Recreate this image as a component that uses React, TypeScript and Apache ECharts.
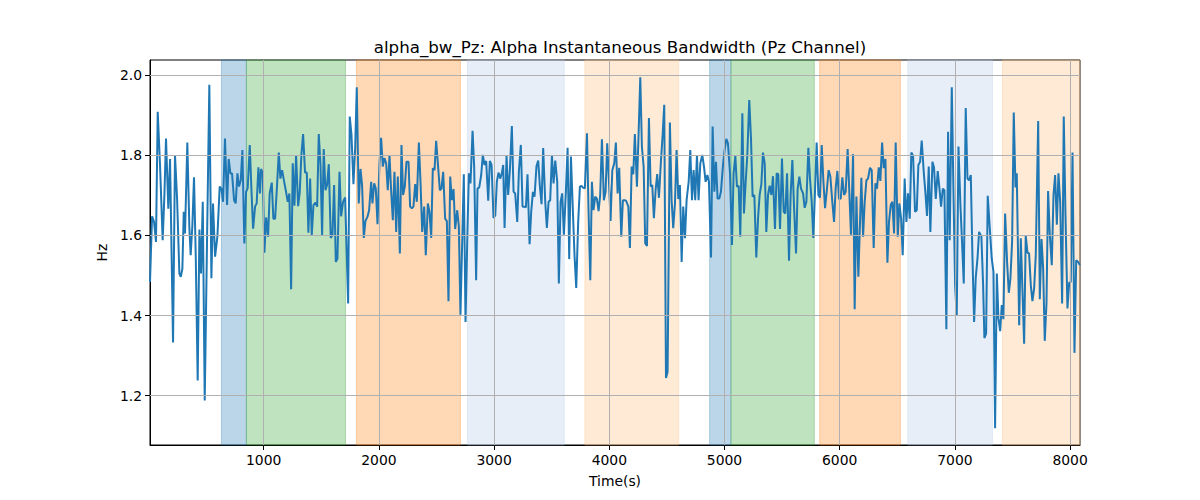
import React, { useEffect, useRef } from 'react';
import * as echarts from 'echarts';

const timeS = [
  13, 31, 48, 65, 80, 100, 123, 138, 152, 172, 187, 213, 230, 248, 268, 280, 294, 306, 317, 337,
  355, 366, 381, 395, 410, 427, 442, 456, 471, 488, 508, 528, 546, 560, 578, 598, 618, 633, 647, 664,
  682, 696, 711, 725, 743, 757, 772, 786, 801, 815, 832, 847, 861, 879, 893, 908, 925, 939, 954,
  968, 977, 992, 1006, 1021, 1038, 1052, 1070, 1084, 1099, 1116, 1131, 1145, 1160, 1177, 1194, 1209, 1223, 1238, 1252,
  1267, 1281, 1299, 1313, 1327, 1342, 1359, 1374, 1388, 1403, 1417, 1432, 1449, 1464, 1478, 1493, 1507, 1521, 1536, 1550,
  1565, 1582, 1597, 1611, 1626, 1640, 1658, 1672, 1689, 1707, 1721, 1733, 1747, 1762, 1779, 1794, 1808, 1825, 1840, 1854,
  1869, 1883, 1901, 1915, 1933, 1944, 1959, 1973, 1988,
  2005, 2019, 2034, 2048, 2063, 2077, 2092, 2106, 2121, 2135, 2150, 2164, 2182, 2196, 2210, 2225, 2239, 2257, 2271, 2286,
  2300, 2315, 2329, 2347, 2361, 2376, 2393, 2407, 2425, 2439, 2454, 2468, 2483, 2497, 2514, 2529, 2543, 2558, 2575, 2590,
  2604, 2619, 2633, 2648, 2662, 2680, 2694, 2708, 2723, 2737, 2752, 2769, 2781, 2795, 2813, 2827, 2844, 2856, 2871, 2888,
  2902, 2917, 2931, 2949, 2963, 2978, 2995, 3010, 3024, 3038,
  3053, 3067, 3079, 3091, 3108, 3122, 3137, 3154, 3169, 3183, 3201, 3215, 3232, 3247, 3261, 3276, 3290, 3308, 3322, 3337,
  3351, 3368, 3383, 3397, 3412, 3426, 3444, 3458, 3473, 3487, 3502, 3516, 3531, 3548, 3562, 3577, 3591, 3606, 3623, 3638,
  3652, 3667, 3681, 3698, 3713, 3730, 3745, 3759, 3774, 3788, 3806, 3820, 3835, 3849, 3863, 3878, 3892, 3907, 3921, 3936,
  3953, 3968, 3982, 3997, 4011, 4026, 4043, 4057, 4072, 4086,
  4104, 4118, 4133, 4147, 4165, 4179, 4194, 4208, 4222, 4240, 4254, 4269, 4283, 4298, 4312, 4327, 4344, 4359, 4373, 4387,
  4402, 4416, 4431, 4448, 4463, 4477, 4492, 4506, 4526, 4541, 4555, 4570, 4584, 4599, 4613, 4628, 4642, 4657, 4671, 4689,
  4703, 4718, 4732, 4746, 4761, 4775, 4790, 4807, 4822, 4836, 4851, 4865, 4883, 4897, 4912, 4926, 4940, 4955, 4969, 4987,
  5001, 5016, 5030, 5048, 5065, 5079, 5094, 5108, 5123,
  5137, 5155, 5169, 5184, 5198, 5215, 5230, 5244, 5259, 5276, 5291, 5305, 5320, 5334, 5349, 5363, 5378, 5392, 5407, 5421,
  5438, 5453, 5467, 5482, 5499, 5514, 5528, 5543, 5560, 5574, 5589, 5603, 5621, 5635, 5650, 5664, 5682, 5696, 5711, 5728,
  5742, 5757, 5771, 5786, 5800, 5815, 5829, 5844, 5858, 5873, 5890, 5904, 5919, 5936, 5951, 5965, 5980, 5994, 6009, 6023,
  6038, 6052, 6069, 6084, 6098, 6116, 6130, 6145, 6162,
  6188, 6203, 6217, 6232, 6246, 6263, 6278, 6295, 6310, 6324, 6339, 6353, 6368, 6382, 6397, 6414, 6428, 6443, 6457, 6472,
  6486, 6504, 6518, 6533, 6547, 6564, 6579, 6593, 6608, 6622, 6637, 6654, 6669, 6683, 6698, 6712, 6730, 6744, 6758, 6773,
  6787, 6805, 6819, 6834, 6851, 6866, 6880, 6895, 6909, 6926, 6941, 6955, 6973, 6987, 7002, 7016, 7031, 7048, 7062, 7077,
  7094, 7109, 7123, 7138, 7152, 7167, 7181, 7196, 7210,
  7230, 7245, 7256, 7271, 7285, 7303, 7320, 7335, 7349, 7364, 7378, 7393, 7407, 7421, 7436, 7453, 7468, 7482, 7497, 7511,
  7526, 7537, 7558, 7572, 7586, 7601, 7615, 7630, 7644, 7659, 7673, 7688, 7702, 7723, 7737, 7752, 7766, 7780, 7795, 7809,
  7824, 7841, 7856, 7870, 7885, 7899, 7914, 7931, 7945, 7960, 7977, 7992, 8006, 8021, 8038, 8053, 8070, 8084,
];

const alphaBw = [
  1.484, 1.648, 1.634, 1.584, 1.909, 1.776, 1.588, 1.70, 1.842, 1.667, 1.791, 1.333, 1.801, 1.693, 1.505, 1.497, 1.517, 1.659, 1.605, 1.832,
  1.617, 1.551, 1.626, 1.745, 1.551, 1.238, 1.615, 1.505, 1.684, 1.188, 1.584, 1.976, 1.493, 1.68, 1.547, 1.597, 1.722, 1.717, 1.684, 1.842,
  1.676, 1.791, 1.755, 1.755, 1.688, 1.68, 1.755, 1.722, 1.738, 1.813, 1.58, 1.709, 1.718, 1.826, 1.718, 1.617, 1.672, 1.68, 1.77,
  1.705, 1.766, 1.755, 1.557, 1.645, 1.597, 1.705, 1.732, 1.642, 1.642, 1.726, 1.807, 1.742, 1.763, 1.735, 1.709, 1.684, 1.705, 1.466, 1.78,
  1.674, 1.801, 1.673, 1.709, 1.801, 1.853, 1.757, 1.757, 1.607, 1.742, 1.601, 1.676, 1.682, 1.672, 1.853, 1.776, 1.601, 1.816, 1.713, 1.726,
  1.778, 1.594, 1.601, 1.726, 1.534, 1.542, 1.759, 1.648, 1.684, 1.695, 1.551, 1.43, 1.897, 1.851, 1.728, 1.818, 1.97, 1.68, 1.766, 1.726,
  1.594, 1.636, 1.647, 1.663, 1.734, 1.68, 1.73, 1.717, 1.628,
  1.78, 1.844, 1.772, 1.793, 1.78, 1.713, 1.801, 1.713, 1.638, 1.759, 1.609, 1.747, 1.555, 1.826, 1.701, 1.722, 1.784, 1.784, 1.672, 1.668,
  1.672, 1.728, 1.684, 1.832, 1.734, 1.609, 1.672, 1.551, 1.68, 1.659, 1.594, 1.768, 1.763, 1.836, 1.772, 1.713, 1.717, 1.759, 1.642, 1.636,
  1.436, 1.747, 1.688, 1.716, 1.616, 1.663, 1.622, 1.402, 1.584, 1.753, 1.384, 1.615, 1.755, 1.73, 1.861, 1.772, 1.488, 1.717, 1.72, 1.751,
  1.801, 1.776, 1.786, 1.687, 1.786, 1.776, 1.644, 1.65, 1.734, 1.757,
  1.742, 1.755, 1.776, 1.619, 1.799, 1.701, 1.763, 1.873, 1.709, 1.705, 1.634, 1.759, 1.826, 1.672, 1.672, 1.67, 1.753, 1.578, 1.659, 1.709,
  1.697, 1.773, 1.787, 1.724, 1.678, 1.818, 1.684, 1.619, 1.684, 1.688, 1.801, 1.73, 1.787, 1.734, 1.48, 1.684, 1.705, 1.602, 1.709, 1.819,
  1.541, 1.797, 1.684, 1.551, 1.469, 1.634, 1.722, 1.724, 1.719, 1.718, 1.855, 1.659, 1.488, 1.734, 1.663, 1.697, 1.692, 1.661, 1.701, 1.84,
  1.688, 1.709, 1.83, 1.734, 1.636, 1.763, 1.78, 1.832, 1.705, 1.769,
  1.597, 1.688, 1.688, 1.686, 1.672, 1.569, 1.772, 1.753, 1.853, 1.722, 1.851, 1.995, 1.822, 1.772, 1.58, 1.574, 1.893, 1.722, 1.726, 1.643,
  1.713, 1.753, 1.694, 1.784, 1.851, 1.926, 1.244, 1.259, 1.882, 1.688, 1.618, 1.68, 1.813, 1.691, 1.726, 1.534, 1.672, 1.593, 1.688, 1.734,
  1.813, 1.688, 1.763, 1.688, 1.801, 1.688, 1.78, 1.801, 1.772, 1.734, 1.751, 1.734, 1.545, 1.872, 1.709, 1.784, 1.692, 1.692, 1.709, 1.776,
  1.813, 1.841, 1.83, 1.755, 1.576, 1.755, 1.799, 1.722, 1.724,
  1.597, 1.905, 1.655, 1.734, 1.801, 1.938, 1.842, 1.697, 1.701, 1.545, 1.642, 1.701, 1.728, 1.807, 1.78, 1.609, 1.701, 1.724, 1.701, 1.748,
  1.616, 1.755, 1.753, 1.616, 1.792, 1.659, 1.655, 1.755, 1.537, 1.701, 1.788, 1.676, 1.555, 1.717, 1.747, 1.717, 1.705, 1.669, 1.684, 1.819,
  1.742, 1.684, 1.594, 1.713, 1.832, 1.701, 1.694, 1.826, 1.738, 1.668, 1.718, 1.763, 1.747, 1.684, 1.634, 1.718, 1.761, 1.691, 1.692, 1.745,
  1.701, 1.709, 1.816, 1.705, 1.602, 1.803, 1.416, 1.697, 1.497,
  1.744, 1.597, 1.684, 1.738, 1.742, 1.769, 1.763, 1.569, 1.73, 1.717, 1.77, 1.736, 1.832, 1.768, 1.791, 1.532, 1.634, 1.676, 1.684, 1.605,
  1.832, 1.597, 1.68, 1.642, 1.551, 1.742, 1.634, 1.705, 1.642, 1.807, 1.799, 1.659, 1.663, 1.776, 1.784, 1.837, 1.757, 1.707, 1.649, 1.772,
  1.609, 1.784, 1.769, 1.691, 1.761, 1.717, 1.672, 1.717, 1.713, 1.366, 1.859, 1.588, 1.97, 1.717, 1.476, 1.399, 1.822, 1.676, 1.584, 1.48,
  1.918, 1.742, 1.738, 1.751, 1.551, 1.384, 1.495, 1.542, 1.609,
  1.597, 1.476, 1.344, 1.355, 1.699, 1.617, 1.542, 1.509, 1.119, 1.505, 1.393, 1.361, 1.426, 1.391, 1.655, 1.534, 1.457, 1.492, 1.588, 1.907,
  1.72, 1.755, 1.376, 1.593, 1.468, 1.33, 1.599, 1.557, 1.555, 1.476, 1.436, 1.468, 1.551, 1.886, 1.441, 1.591, 1.518, 1.337, 1.43, 1.711,
  1.601, 1.526, 1.701, 1.751, 1.627, 1.755, 1.684, 1.43, 1.897, 1.651, 1.418, 1.482, 1.484, 1.807, 1.307, 1.538, 1.534, 1.526,
];

const xTicks = [1000, 2000, 3000, 4000, 5000, 6000, 7000, 8000];
const yTicks = [1.2, 1.4, 1.6, 1.8, 2.0];

const bandStart = [633, 850, 1805, 2769, 3788, 4871, 5056, 5826, 6591, 7413];
const bandEnd = [850, 1710, 2708, 3609, 4602, 5056, 5780, 6527, 7326, 8086];
const bandColor = [
  'rgba(31,119,180,0.3)',
  'rgba(44,160,44,0.3)',
  'rgba(255,127,14,0.3)',
  'rgba(174,199,232,0.3)',
  'rgba(255,187,120,0.3)',
  'rgba(31,119,180,0.3)',
  'rgba(44,160,44,0.3)',
  'rgba(255,127,14,0.3)',
  'rgba(174,199,232,0.3)',
  'rgba(255,187,120,0.3)',
];

const FONT = 'DejaVu Sans';

export default function App() {
  const ref = useRef<HTMLDivElement>(null);

  useEffect(() => {
    if (!ref.current) return;
    const chart = echarts.init(ref.current, null, { renderer: 'svg' });
    const lineData = timeS.map((t, i) => [t, alphaBw[i]]);
    const areas = bandStart.map((s, i) => [
      { xAxis: s, itemStyle: { color: bandColor[i], borderColor: bandColor[i], borderWidth: 1 } },
      { xAxis: bandEnd[i] },
    ]);
    const gridLines = [
      ...xTicks.map((v) => ({ xAxis: v })),
      ...yTicks.map((v) => ({ yAxis: v })),
    ];
    chart.setOption({
      animation: false,
      backgroundColor: '#ffffff',
      title: {
        text: 'alpha_bw_Pz: Alpha Instantaneous Bandwidth (Pz Channel)',
        left: 615,
        top: 34,
        textAlign: 'center',
        textStyle: { fontFamily: FONT, fontSize: 16.67, fontWeight: 'normal', color: '#000' },
      },
      grid: {
        left: 150,
        right: 120,
        top: 60,
        bottom: 55,
        show: true,
        borderColor: '#000',
        borderWidth: 1,
        backgroundColor: 'transparent',
        containLabel: false,
      },
      xAxis: {
        type: 'value',
        min: 13,
        max: 8086,
        name: 'Time(s)',
        nameLocation: 'middle',
        nameGap: 29,
        nameTextStyle: { fontFamily: FONT, fontSize: 13.9, color: '#000' },
        axisLine: { show: true, lineStyle: { color: '#000', width: 1 } },
        axisTick: { show: true, customValues: xTicks, length: 5, lineStyle: { color: '#000', width: 1 } },
        axisLabel: {
          customValues: xTicks,
          margin: 8,
          fontFamily: FONT,
          fontSize: 13.9,
          color: '#000',
          formatter: (v: number) => String(v),
        },
        splitLine: { show: false },
      },
      yAxis: {
        type: 'value',
        min: 1.077,
        max: 2.038,
        name: 'Hz',
        nameLocation: 'middle',
        nameGap: 37,
        nameRotate: 90,
        nameTextStyle: { fontFamily: FONT, fontSize: 13.9, color: '#000' },
        axisLine: { show: true, lineStyle: { color: '#000', width: 1 } },
        axisTick: { show: true, customValues: yTicks, length: 5, lineStyle: { color: '#000', width: 1 } },
        axisLabel: {
          customValues: yTicks,
          margin: 8,
          fontFamily: FONT,
          fontSize: 13.9,
          color: '#000',
          formatter: (v: number) => v.toFixed(1),
        },
        splitLine: { show: false },
      },
      series: [
        {
          type: 'line',
          data: [],
          z: 1,
          silent: true,
          markArea: { silent: true, data: areas },
        },
        {
          type: 'line',
          data: [],
          z: 2,
          silent: true,
          markLine: {
            silent: true,
            symbol: ['none', 'none'],
            label: { show: false },
            lineStyle: { color: '#b0b0b0', width: 1, type: 'solid' },
            emphasis: { disabled: true },
            data: gridLines,
          },
        },
        {
          type: 'line',
          data: lineData,
          z: 3,
          showSymbol: false,
          symbol: 'none',
          clip: true,
          lineStyle: { color: '#1f77b4', width: 2 },
          itemStyle: { color: '#1f77b4' },
        },
      ],
    });
    return () => chart.dispose();
  }, []);

  return (
    <div
      ref={ref}
      style={{ position: 'absolute', left: 0, top: 0, width: 1200, height: 500 }}
    />
  );
}
